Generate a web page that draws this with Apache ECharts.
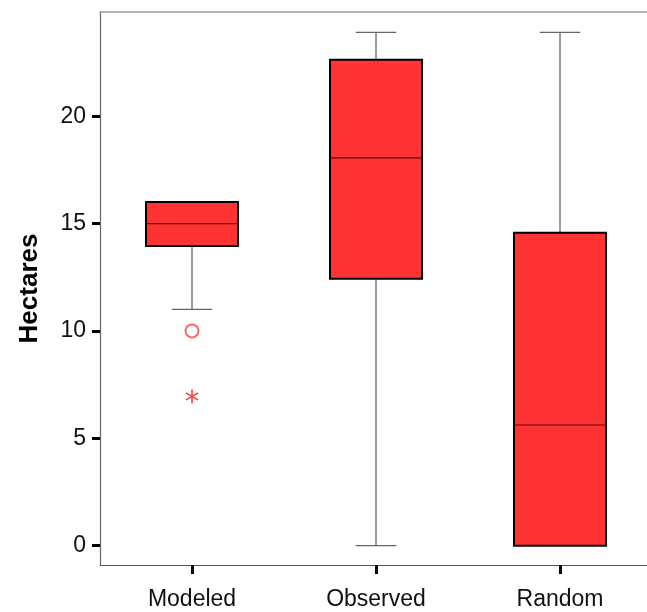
<!DOCTYPE html>
<html>
<head>
<meta charset="utf-8">
<script src="https://cdn.jsdelivr.net/npm/echarts@6/dist/echarts.min.js"></script>
<style>
html,body{margin:0;padding:0;background:#fff;}
#chart{width:647px;height:612px;}
</style>
</head>
<body>
<div id="chart"></div>
<script>
// Data
var categories = ['Modeled', 'Observed', 'Random'];
// [low whisker, Q1, median, Q3, high whisker]
var boxStats = [
  [11.0, 13.95, 15.0, 16.0, 16.0],
  [0.0, 12.43, 18.06, 22.63, 23.9],
  [0.0, 0.0, 5.62, 14.57, 23.9]
];
var outlierCircles = [[0, 10.0]];
var outlierStars = [[0, 6.95]];
var yTicks = [0, 5, 10, 15, 20];

var chart = echarts.init(document.getElementById('chart'));

var FILL = '#FF3333';
var FONT = 'Liberation Sans, Arial, sans-serif';

function boxRender(params, api) {
  var x = api.value(0);
  var low = api.coord([x, api.value(1)]);
  var q1 = api.coord([x, api.value(2)]);
  var med = api.coord([x, api.value(3)]);
  var q3 = api.coord([x, api.value(4)]);
  var high = api.coord([x, api.value(5)]);
  var band = api.size([1, 0])[0];
  var bw = band * 0.5;
  var cw = band * 0.22;
  var cx = low[0];
  var children = [];
  var wStyle = {stroke: '#3a3a3a', lineWidth: 1};
  if (high[1] < q3[1] - 0.5) {
    children.push({type: 'line', shape: {x1: cx, y1: high[1], x2: cx, y2: q3[1]}, style: wStyle});
    children.push({type: 'line', shape: {x1: cx - cw / 2, y1: high[1], x2: cx + cw / 2, y2: high[1]}, style: {stroke: '#666', lineWidth: 1.2}});
  }
  if (low[1] > q1[1] + 0.5) {
    children.push({type: 'line', shape: {x1: cx, y1: q1[1], x2: cx, y2: low[1]}, style: wStyle});
    children.push({type: 'line', shape: {x1: cx - cw / 2, y1: low[1], x2: cx + cw / 2, y2: low[1]}, style: {stroke: '#666', lineWidth: 1.2}});
  }
  children.push({type: 'rect', shape: {x: cx - bw / 2, y: q3[1], width: bw, height: q1[1] - q3[1]},
    style: {fill: FILL, stroke: '#000', lineWidth: 2}});
  children.push({type: 'line', shape: {x1: cx - bw / 2, y1: med[1], x2: cx + bw / 2, y2: med[1]},
    style: {stroke: '#5a0a0a', lineWidth: 1.2}});
  return {type: 'group', children: children};
}

function starRender(params, api) {
  var p = api.coord([api.value(0), api.value(1)]);
  var r = 7;
  var s = {stroke: '#FF4040', lineWidth: 1.6};
  var c = [];
  var angles = [90, 30, -30];
  for (var i = 0; i < angles.length; i++) {
    var a = angles[i] * Math.PI / 180;
    c.push({type: 'line', shape: {x1: p[0] - r * Math.cos(a), y1: p[1] - r * Math.sin(a), x2: p[0] + r * Math.cos(a), y2: p[1] + r * Math.sin(a)}, style: s});
  }
  return {type: 'group', children: c};
}

var boxData = boxStats.map(function (b, i) { return [i].concat(b); });

chart.setOption({
  animation: false,
  backgroundColor: '#fff',
  grid: {left: 100, top: 12, width: 552, height: 553, outerBoundsMode: 'none', containLabel: false},
  xAxis: [{
    type: 'category',
    data: categories,
    position: 'bottom',
    axisLine: {show: true, onZero: false, lineStyle: {color: '#555', width: 1.2}},
    axisTick: {show: true, alignWithLabel: true, length: 9, lineStyle: {color: '#000', width: 3}},
    axisLabel: {color: '#111', fontSize: 23, fontFamily: FONT, margin: 23},
    splitLine: {show: false}
  }, {
    type: 'category',
    data: categories,
    position: 'top',
    axisLine: {show: true, onZero: false, lineStyle: {color: '#999', width: 1.5}},
    axisTick: {show: false},
    axisLabel: {show: false}
  }],
  yAxis: {
    type: 'value',
    min: -0.9,
    max: 24.85,
    name: 'Hectares',
    nameLocation: 'middle',
    nameGap: 57,
    nameTextStyle: {fontSize: 26, fontWeight: 'bold', color: '#000', fontFamily: FONT},
    axisLine: {show: true, lineStyle: {color: '#666', width: 1.2}},
    axisTick: {show: true, customValues: yTicks, length: 8, lineStyle: {color: '#000', width: 3}},
    axisLabel: {customValues: yTicks, color: '#111', fontSize: 23, fontFamily: FONT, margin: 14},
    splitLine: {show: false}
  },
  series: [{
    type: 'custom',
    renderItem: boxRender,
    data: boxData,
    encode: {x: 0, y: [1, 2, 3, 4, 5]},
    z: 2
  }, {
    type: 'scatter',
    data: outlierCircles,
    symbol: 'emptyCircle',
    symbolSize: 13,
    itemStyle: {color: '#FF4040', borderColor: '#FF4040', borderWidth: 2},
    z: 3
  }, {
    type: 'custom',
    renderItem: starRender,
    data: outlierStars,
    encode: {x: 0, y: 1},
    z: 3
  }]
});
</script>
</body>
</html>
